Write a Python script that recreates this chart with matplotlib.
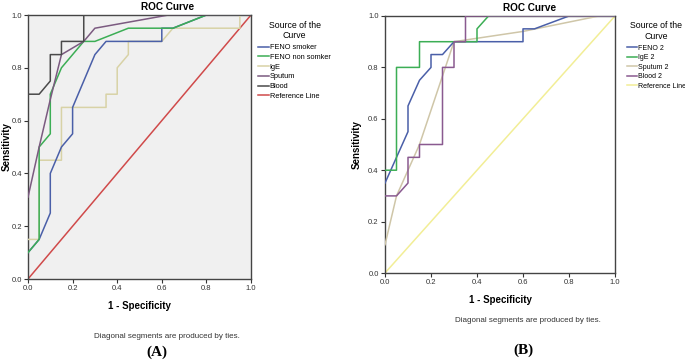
import matplotlib.pyplot as plt

# Panel A data (1 - specificity, sensitivity)
feno_smoker_x = [0, 0.05, 0.1, 0.1, 0.15, 0.2, 0.2, 0.3, 0.35, 0.6, 0.6, 0.65, 0.8, 1.0]
feno_smoker_y = [0.1, 0.15, 0.25, 0.4, 0.5, 0.55, 0.65, 0.85, 0.9, 0.9, 0.95, 0.95, 1.0, 1.0]
feno_nonsmk_x = [0, 0.05, 0.05, 0.1, 0.1, 0.15, 0.25, 0.3, 0.45, 0.65, 0.8, 1.0]
feno_nonsmk_y = [0.1, 0.15, 0.5, 0.55, 0.7, 0.8, 0.9, 0.9, 0.95, 0.95, 1.0, 1.0]
ige_x = [0, 0.05, 0.05, 0.15, 0.15, 0.35, 0.35, 0.4, 0.4, 0.45, 0.45, 0.6, 0.65, 0.95, 0.95, 1.0]
ige_y = [0.15, 0.15, 0.45, 0.45, 0.65, 0.65, 0.7, 0.7, 0.8, 0.85, 0.9, 0.9, 0.95, 0.95, 1.0, 1.0]
sputum_x = [0, 0.05, 0.1, 0.15, 0.25, 0.3, 0.63, 1.0]
sputum_y = [0.31, 0.5, 0.68, 0.85, 0.9, 0.95, 1.0, 1.0]
blood_x = [0, 0.05, 0.1, 0.1, 0.15, 0.15, 0.25, 0.25, 1.0]
blood_y = [0.7, 0.7, 0.75, 0.85, 0.85, 0.9, 0.9, 1.0, 1.0]

# Panel B data
feno2_x = [0, 0.05, 0.1, 0.1, 0.15, 0.2, 0.2, 0.25, 0.3, 0.6, 0.6, 0.65, 0.8, 1.0]
feno2_y = [0.35, 0.45, 0.55, 0.65, 0.75, 0.8, 0.85, 0.85, 0.9, 0.9, 0.95, 0.95, 1.0, 1.0]
ige2_x = [0, 0.05, 0.05, 0.15, 0.15, 0.4, 0.4, 0.45, 1.0]
ige2_y = [0.4, 0.4, 0.8, 0.8, 0.9, 0.9, 0.95, 1.0, 1.0]
sputum2_x = [0, 0.05, 0.15, 0.3, 0.6, 0.93, 1.0]
sputum2_y = [0.11, 0.3, 0.5, 0.9, 0.94, 1.0, 1.0]
blood2_x = [0, 0.05, 0.1, 0.1, 0.15, 0.15, 0.25, 0.25, 0.3, 0.3, 0.35, 0.35, 1.0]
blood2_y = [0.3, 0.3, 0.35, 0.45, 0.45, 0.5, 0.5, 0.8, 0.8, 0.9, 0.9, 1.0, 1.0]

ticks = [0.0, 0.2, 0.4, 0.6, 0.8, 1.0]
tick_labels = ["0.0", "0.2", "0.4", "0.6", "0.8", "1.0"]

plt.rcParams['font.family'] = ['Liberation Sans', 'DejaVu Sans']

fig = plt.figure(figsize=(6.85, 3.61), dpi=100)
fig.patch.set_facecolor('white')

axA = fig.add_axes([28/685, 82/361, 223/685, 264/361])
axB = fig.add_axes([385/685, 88/361, 230/685, 257/361])


def style_axis(ax, bg, ylab_x):
    ax.set_facecolor(bg)
    ax.set_xlim(0, 1)
    ax.set_ylim(0, 1)
    ax.set_xticks(ticks)
    ax.set_yticks(ticks)
    ax.set_xticklabels(tick_labels)
    ax.set_yticklabels(tick_labels)
    ax.tick_params(labelsize=5.5, length=3, width=0.8, pad=1.5, colors='#333333')
    for s in ax.spines.values():
        s.set_color('#444444')
        s.set_linewidth(1.0)
    ax.set_ylabel("Sensitivity", fontsize=7, fontweight='bold')
    ax.yaxis.set_label_coords(ylab_x, 0.5)
    ax.set_xlabel("1 - Specificity", fontsize=7, fontweight='bold', labelpad=6)


style_axis(axA, '#f0f0f0', -0.072)
style_axis(axB, 'white', -0.1)

fig.text(168/685, 1 - 7/361, "ROC Curve", fontsize=7.2, fontweight='bold',
         ha='center', va='center')
fig.text(530/685, 1 - 8/361, "ROC Curve", fontsize=7.2, fontweight='bold',
         ha='center', va='center')

lw = 1.1
axA.plot([0, 1], [0, 1], color='#d04a4a', lw=lw, label='Reference Line', zorder=2)
axA.plot(ige_x, ige_y, color='#d8d2a6', lw=lw, label='IgE', zorder=3)
axA.plot(feno_smoker_x, feno_smoker_y, color='#4a5fa8', lw=lw, label='FENO smoker', zorder=4)
axA.plot(feno_nonsmk_x, feno_nonsmk_y, color='#3cae55', lw=lw, label='FENO non somker', zorder=5)
axA.plot(sputum_x, sputum_y, color='#7b5a80', lw=lw, label='Sputum', zorder=6)
axA.plot(blood_x, blood_y, color='#4a4a4a', lw=lw, label='Blood', zorder=7)

axB.plot([0, 1], [0, 1], color='#f2ee96', lw=lw, label='Reference Line', zorder=2)
axB.plot(sputum2_x, sputum2_y, color='#cfc6a8', lw=lw, label='Sputum 2', zorder=3)
axB.plot(feno2_x, feno2_y, color='#4a5fa8', lw=lw, label='FENO 2', zorder=4)
axB.plot(ige2_x, ige2_y, color='#3cae55', lw=lw, label='IgE 2', zorder=5)
axB.plot(blood2_x, blood2_y, color='#8a5a90', lw=lw, label='Blood 2', zorder=6)

orderA = ['FENO smoker', 'FENO non somker', 'IgE', 'Sputum', 'Blood', 'Reference Line']
orderB = ['FENO 2', 'IgE 2', 'Sputum 2', 'Blood 2', 'Reference Line']


def add_legend(ax, order, x, y, fs):
    h, l = ax.get_legend_handles_labels()
    d = dict(zip(l, h))
    leg = ax.legend([d[k] for k in order], order, title="Source of the\nCurve",
                    loc='upper left', bbox_to_anchor=(x, y), frameon=False,
                    fontsize=fs, title_fontsize=6.3, handlelength=1.4, handletextpad=0.15,
                    labelspacing=0.35, borderaxespad=0)
    leg._legend_box.sep = 3
    leg.get_title().set_multialignment('center')


add_legend(axA, orderA, 1.02, 0.99, 5.3)
add_legend(axB, orderB, 1.04, 0.99, 5.0)

fig.text(167/685, 1 - 337/361, "Diagonal segments are produced by ties.", fontsize=5.8,
         ha='center', va='center', color='#333333')
fig.text(528/685, 1 - 320/361, "Diagonal segments are produced by ties.", fontsize=5.8,
         ha='center', va='center', color='#333333')
fig.text(157/685, 1 - 352/361, "(A)", fontsize=11, fontweight='bold',
         family=['Liberation Serif', 'DejaVu Serif'], ha='center', va='center')
fig.text(523/685, 1 - 350/361, "(B)", fontsize=11, fontweight='bold',
         family=['Liberation Serif', 'DejaVu Serif'], ha='center', va='center')

fig.savefig("out.png", dpi=100)
